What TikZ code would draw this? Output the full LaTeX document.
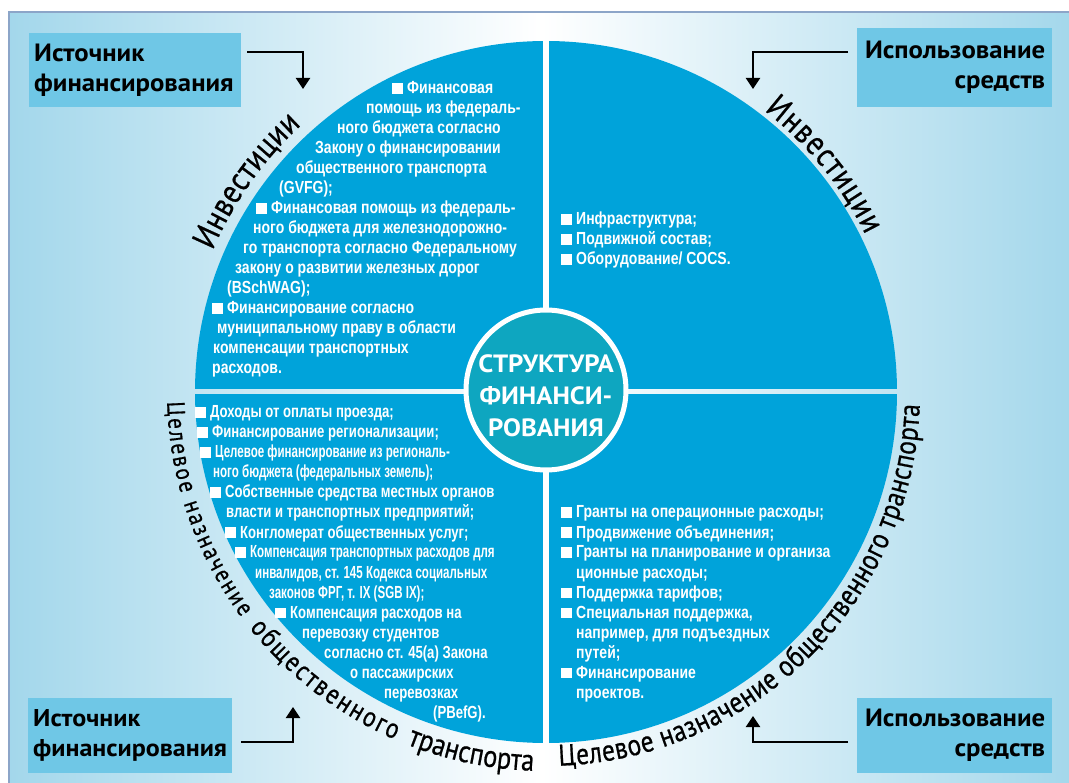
\documentclass[tikz,border=0pt]{standalone}
\usepackage{fontspec}
\usetikzlibrary{arrows.meta,calc,decorations.text}
\setmainfont{PT Sans}
\newfontfamily\tagfont[FakeStretch=1.07]{PT Sans}
\newfontfamily\qfont[FakeStretch=0.8]{Liberation Sans}
\newfontfamily\qmfont[FakeStretch=0.75]{Liberation Sans}
\newfontfamily\qnfont[FakeStretch=0.66]{Liberation Sans}
\newfontfamily\arcfont[FakeStretch=0.85,FakeBold=0.6]{PT Sans}
\definecolor{bgedge}{RGB}{163,215,235}
\definecolor{framec}{RGB}{140,165,200}
\definecolor{disc}{RGB}{0,163,218}
\definecolor{hub}{RGB}{14,166,192}
\definecolor{tag}{RGB}{111,199,230}
% white square bullet in front of list items
\newcommand\blt{\rule{10.5pt}{10.5pt}\hspace{4.5pt}}

\begin{document}
\begin{tikzpicture}[x=1pt,y=1pt,
  tagbox/.style={fill=tag, inner sep=0pt, anchor=north west,
    font=\fontsize{25}{30}\selectfont\tagfont\bfseries},
  qline/.style={text=white, inner sep=0pt, anchor=base west,
    font=\fontsize{17.5}{20}\selectfont\qfont\bfseries},
  qmid/.style={qline, font=\fontsize{17.5}{20}\selectfont\qmfont\bfseries},
  qnarrow/.style={qline, font=\fontsize{17.5}{20}\selectfont\qnfont\bfseries},
  link/.style={line width=2.2pt, -{Triangle[width=14pt,length=11pt]}},
  arcwords/.style={decorate, decoration={text along path, text color=black,
    text={#1}, text align={fit to path}}}
]
\useasboundingbox (0,0) rectangle (1069,-783);
\fill[white] (0,0) rectangle (1069,-783);

% framed background with a soft horizontal gradient
\shade[left color=bgedge, right color=bgedge, middle color=white]
  (9,-12) rectangle (1075,-790);
\draw[framec, line width=1.2pt] (1075,-12) -- (9,-12) -- (9,-790);

% the big disc, split into four quadrants
\coordinate (C) at (546,-392);
\begin{scope}
  \clip (C) circle (351);
  \fill[disc] (180,-30) rectangle (543,-389);
  \fill[disc] (549,-30) rectangle (910,-389);
  \fill[disc] (180,-394) rectangle (543,-760);
  \fill[disc] (549,-394) rectangle (910,-760);
\end{scope}

% central hub
\node[circle, fill=hub, draw=white, line width=5pt, minimum size=160pt,
  inner sep=0pt] (hub) at (546,-390) {};
\node[text=white, inner sep=0pt, align=center,
  font=\fontsize{25}{32}\selectfont\tagfont\bfseries] (title) at (546,-396)
  {СТРУКТУРА\\ФИНАНСИ-\\РОВАНИЯ};

% words running round the disc
\path[arcwords={|\fontsize{34}{34}\selectfont\arcfont|Инвестиции}]
  ($(C)+(157:362)$) arc[start angle=157, end angle=132.5, radius=362];
\path[arcwords={|\fontsize{34}{34}\selectfont\arcfont|Инвестиции}]
  ($(C)+(52.2:356)$) arc[start angle=52.2, end angle=26.2, radius=356];
\path[arcwords={|\fontsize{25}{25}\selectfont\arcfont|Целевое назначение}]
  ($(C)+(181.5:379)$) arc[start angle=181.5, end angle=216.5, radius=379];
\path[arcwords={|\fontsize{28}{28}\selectfont\arcfont|общественного}]
  ($(C)+(218.5:379)$) arc[start angle=218.5, end angle=246.5, radius=379];
\path[arcwords={|\fontsize{31}{31}\selectfont\arcfont|транспорта}]
  ($(C)+(248.5:379)$) arc[start angle=248.5, end angle=268, radius=379];
\path[arcwords={|\fontsize{30}{30}\selectfont\arcfont|Целевое назначение общественного транспорта}]
  ($(C)+(272:374)$) arc[start angle=272, end angle=358, radius=374];

% corner labels
\node[tagbox, minimum width=212pt, minimum height=74pt, text width=202pt,
  align=left] (srcTop) at (29,-33) {Источник\\финансирования};
\node[tagbox, minimum width=195pt, minimum height=79pt, text width=181pt,
  align=right] (useTop) at (857,-28) {Использование\\средств};
\node[tagbox, minimum width=204pt, minimum height=75pt, text width=194pt,
  align=left, font=\fontsize{24.3}{30}\selectfont\tagfont\bfseries] (srcBot) at (28,-698)
  {Источник\\финансирования};
\node[tagbox, minimum width=195pt, minimum height=75pt, text width=181pt,
  align=right] (useBot) at (857,-698) {Использование\\средств};

% elbow arrows from the labels to the disc
\coordinate (tipTL) at (303,-89);
\coordinate (tipTR) at (753,-89);
\coordinate (tipBL) at (293,-707);
\coordinate (tipBR) at (753,-716);
\draw[link] ([xshift=6pt,yshift=-19pt]srcTop.north east) -| (tipTL);
\draw[link] ([xshift=-9pt,yshift=-24pt]useTop.north west) -| (tipTR);
\draw[link] ([xshift=9pt,yshift=-44pt]srcBot.north east) -| (tipBL);
\draw[link] ([xshift=-9pt,yshift=-44pt]useBot.north west) -| (tipBR);

% top-left quadrant
\node[qline] (tl1) at (392,-94) {\blt Финансовая};
\node[qline] (tl2) at (366,-114) {помощь из федераль-};
\node[qline] (tl3) at (337,-134) {ного бюджета согласно};
\node[qline] (tl4) at (315,-154) {Закону о финансировании};
\node[qline] (tl5) at (296,-174) {общественного транспорта};
\node[qline] (tl6) at (279,-194) {(GVFG);};
\node[qline] (tl7) at (256,-214) {\blt Финансовая помощь из федераль-};
\node[qline] (tl8) at (253,-234) {ного бюджета для железнодорожно-};
\node[qline] (tl9) at (243,-254) {го транспорта согласно Федеральному};
\node[qline] (tl10) at (235,-274) {закону о развитии железных дорог};
\node[qline] (tl11) at (227,-294) {(BSchWAG);};
\node[qline] (tl12) at (212,-314) {\blt Финансирование согласно};
\node[qline] (tl13) at (217,-334) {муниципальному праву в области};
\node[qline] (tl14) at (213,-354) {компенсации транспортных};
\node[qline] (tl15) at (212,-374) {расходов.};

% top-right quadrant
\node[qline] (tr1) at (561,-225) {\blt Инфраструктура;};
\node[qline] (tr2) at (561,-245) {\blt Подвижной состав;};
\node[qline] (tr3) at (561,-265) {\blt Оборудование/ COCS.};

% bottom-left quadrant
\node[qmid] (bl1) at (195,-418) {\blt Доходы от оплаты проезда;};
\node[qmid] (bl2) at (197,-438) {\blt Финансирование регионализации;};
\node[qnarrow] (bl3) at (200,-458) {\blt Целевое финансирование из региональ-};
\node[qnarrow] (bl4) at (213,-478) {ного бюджета (федеральных земель);};
\node[qmid] (bl5) at (210,-498) {\blt Собственные средства местных органов};
\node[qmid] (bl6) at (226,-518) {власти и транспортных предприятий;};
\node[qmid] (bl7) at (225,-538) {\blt Конгломерат общественных услуг;};
\node[qnarrow] (bl8) at (235,-558) {\blt Компенсация транспортных расходов для};
\node[qnarrow] (bl9) at (255,-578) {инвалидов, ст. 145 Кодекса социальных};
\node[qnarrow] (bl10) at (269,-598) {законов ФРГ, т. IX (SGB IX);};
\node[qmid] (bl11) at (275,-618) {\blt Компенсация расходов на};
\node[qmid] (bl12) at (302,-638) {перевозку студентов};
\node[qmid] (bl13) at (324,-658) {согласно ст. 45(а) Закона};
\node[qmid] (bl14) at (350,-678) {о пассажирских};
\node[qmid] (bl15) at (384,-698) {перевозках};
\node[qmid] (bl16) at (433,-718) {(PBefG).};

% bottom-right quadrant
\node[qline] (br1) at (561,-518) {\blt Гранты на операционные расходы;};
\node[qline] (br2) at (561,-538) {\blt Продвижение объединения;};
\node[qline] (br3) at (561,-558) {\blt Гранты на планирование и организа};
\node[qline] (br4) at (576,-578) {ционные расходы;};
\node[qline] (br5) at (561,-598) {\blt Поддержка тарифов;};
\node[qline] (br6) at (561,-618) {\blt Специальная поддержка,};
\node[qline] (br7) at (576,-638) {например, для подъездных};
\node[qline] (br8) at (576,-658) {путей;};
\node[qline] (br9) at (561,-678) {\blt Финансирование};
\node[qline] (br10) at (576,-698) {проектов.};
\end{tikzpicture}
\end{document}
